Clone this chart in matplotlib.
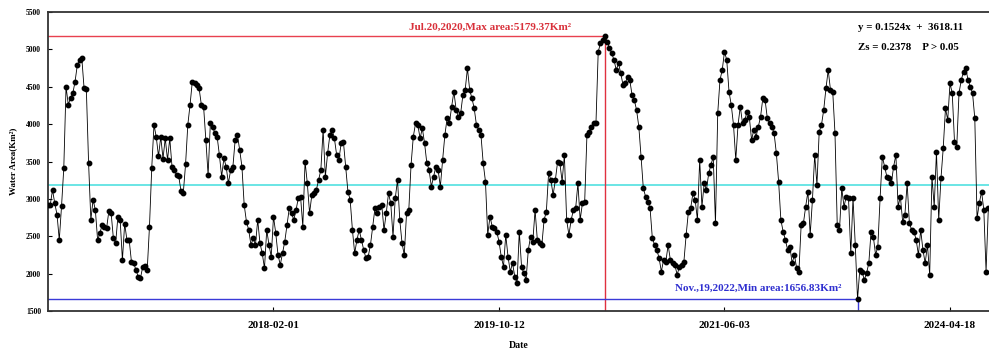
import numpy as np
import matplotlib.pyplot as plt

# water area (Km2) per image, in time order
seg_a = [2920, 2920, 3120, 2940, 2790, 2450, 2900, 3410, 4500, 4260,
         4350, 4410, 4570, 4790, 4860, 4880, 4480, 4470, 3480, 2720,
         2990, 2850, 2450, 2540, 2650, 2630, 2610, 2840, 2810, 2470,
         2410, 2760, 2720, 2180, 2670, 2450, 2450, 2160, 2140, 2050,
         1960, 1940, 2090, 2100, 2050, 2630, 3410, 3990, 3830, 3570,
         3830, 3540, 3810, 3520, 3810, 3430, 3390, 3320, 3300, 3100,
         3080, 3460, 3990, 4260, 4570, 4550, 4520, 4480, 4260]
seg_b = [4234, 3789, 3320, 4011, 3967, 3878, 3833, 3588, 3298, 3543,
         3432, 3209, 3387, 3432, 3789, 3855, 3655, 3432, 2920,
         2697, 2585, 2384, 2474, 2384, 2719, 2407, 2273, 2073,
         2585, 2384, 2228, 2763, 2541, 2251, 2117, 2273, 2429,
         2652, 2875, 2808, 2719, 2852, 3009, 3031, 2630, 3499,
         3209, 2808, 3053, 3075, 3120, 3254, 3387, 3922,
         3298, 3610, 3855, 3922, 3811, 3588, 3521,
         3744, 3766, 3432, 3098, 2986, 2585, 2273, 2451, 2585]
seg_c = [2451, 2318, 2206, 2228, 2384, 2630, 2875, 2808,
         2897, 2920, 2585, 2808, 3075, 2942, 2496, 3009, 3254, 2719,
         2407, 2251, 2808, 2852, 3454, 3833, 4011, 3989, 3811,
         3944, 3744, 3477, 3387, 3165, 3298, 3432, 3387, 3165,
         3521, 3855, 4078, 4011, 4234, 4435, 4190, 4100, 4145,
         4390, 4457, 4747, 4457, 4346, 4212, 3989, 3922, 3855,
         3477, 3232, 2518, 2763, 2630, 2607, 2563, 2429, 2228,
         2095, 2518, 2228, 2028, 2140, 1961, 1872]
seg_d = [2563, 2095, 2006, 1917, 2318, 2496, 2429, 2852, 2451, 2407,
         2384, 2719, 2830, 3343, 3254, 3053, 3254, 3499, 3477, 3232,
         3588, 2719, 2518, 2719, 2852, 2875, 3209, 2719, 2942, 2964,
         3855, 3900, 3967, 4011, 4011, 4970, 5081, 5126,
         5179.37,
         5103, 5014, 4947, 4858, 4724, 4814, 4680, 4524, 4546, 4635,
         4591, 4390, 4323, 4190, 3967, 3566, 3143, 3031, 2964, 2875,
         2474, 2384, 2318, 2206, 2028, 2184, 2162, 2384, 2184, 2140, 2117]
seg_e = [1983, 2095, 2117, 2162, 2518, 2830, 2875, 3075, 2986, 2719,
         3521, 2897, 3209, 3120, 3343, 3454, 3566, 2674, 4145, 4591,
         4724, 4970, 4858, 4435, 4256, 3989, 3521, 3989, 4234, 4011,
         4056, 4167, 4100, 3789, 3922, 3833, 3967, 4100, 4346, 4323,
         4078, 4011, 3967, 3878, 3610, 3232, 2719, 2563, 2451, 2318,
         2362, 2140, 2251, 2073, 2028, 2652, 2674, 2897, 3098, 2518,
         2986, 3588, 3187, 3900, 3989, 4190, 4479, 4724, 4457, 4435]
seg_f = [3878, 2652, 2585, 3143, 2897, 3031, 3009, 2273, 3009, 2384,
         1656.83,
         2050, 2028, 1917, 2006, 2140, 2563, 2496, 2251, 2362, 3009,
         3566, 3432, 3298, 3276, 3209, 3432, 3588, 2897, 3031, 2697,
         2786, 3209, 2674, 2585, 2563, 2451, 2251, 2585, 2318, 2140,
         2384, 1983, 3298, 2897, 3632, 2719, 3276, 3677, 4212, 4056,
         4546, 4413, 3766, 3700, 4413, 4591, 4702, 4747, 4591, 4502,
         4413, 4078, 2741, 2942, 3098, 2852, 2028, 2875]

area = np.array(seg_a + seg_b + seg_c + seg_d + seg_e + seg_f)
mean_area = 3190  # cyan reference line as drawn in the original

tick_idx = [100, 200, 300, 400]
tick_labels = ['2018-02-01', '2019-10-12', '2021-06-03', '2024-04-18']
max_label = 'Jul.20,2020,Max area:5179.37Km²'
min_label = 'Nov.,19,2022,Min area:1656.83Km²'
trend_label = 'y = 0.1524x  +  3618.11'
test_label = 'Zs = 0.2378    P > 0.05'

plt.rcParams['font.family'] = ['Liberation Serif', 'DejaVu Serif']
plt.rcParams['font.weight'] = 'bold'

fig = plt.figure(figsize=(9.89, 3.58), dpi=100)
ax = fig.add_axes([48 / 989, 1 - 311 / 358, 941 / 989, 299 / 358])

x = np.arange(len(area))
i_max = int(np.argmax(area))
i_min = int(np.argmin(area))

ax.axhline(mean_area, color='#5fe3e3', lw=1.3, zorder=1)

ax.plot([0, i_max], [area[i_max], area[i_max]], color='#e8414f', lw=1.0, zorder=2)
ax.plot([i_max, i_max], [1500, area[i_max]], color='#e0303f', lw=1.0, zorder=2)
ax.plot([0, i_min], [area[i_min], area[i_min]], color='#3a3ad8', lw=1.0, zorder=2)
ax.plot([i_min, i_min], [1500, area[i_min]], color='#3a3ad8', lw=1.0, zorder=2)

ax.plot(x, area, color='black', lw=0.6, marker='o', ms=3.2, zorder=3)

ax.text(196, 5300, max_label, color='#d8303a', fontsize=8,
        ha='center', va='center', fontweight='bold')
ax.text(i_min - 7, 1800, min_label, color='#3030d0', fontsize=8,
        ha='right', va='center', fontweight='bold')
ax.text(359, 5290, trend_label, color='black', fontsize=7.8, ha='left', va='center')
ax.text(359, 5020, test_label, color='black', fontsize=7.8, ha='left', va='center')

ax.set_xlim(0, 417.3)
ax.set_ylim(1500, 5500)
ax.set_yticks(np.arange(1500, 5501, 500))
ax.set_xticks(tick_idx)
ax.set_xticklabels(tick_labels)
ax.tick_params(axis='x', direction='in', length=3, labelsize=8, pad=7)
ax.tick_params(axis='y', direction='in', length=3, labelsize=5.5, pad=5)

for side in ['left', 'bottom', 'top']:
    ax.spines[side].set_linewidth(1.3)
    ax.spines[side].set_color('#333333')
ax.spines['right'].set_visible(False)

ax.set_xlabel('Date', fontsize=7, fontweight='bold', labelpad=8)
ax.set_ylabel('Water Area(Km²)', fontsize=6.5, fontweight='bold', labelpad=6)

fig.savefig('out.png', dpi=100)
